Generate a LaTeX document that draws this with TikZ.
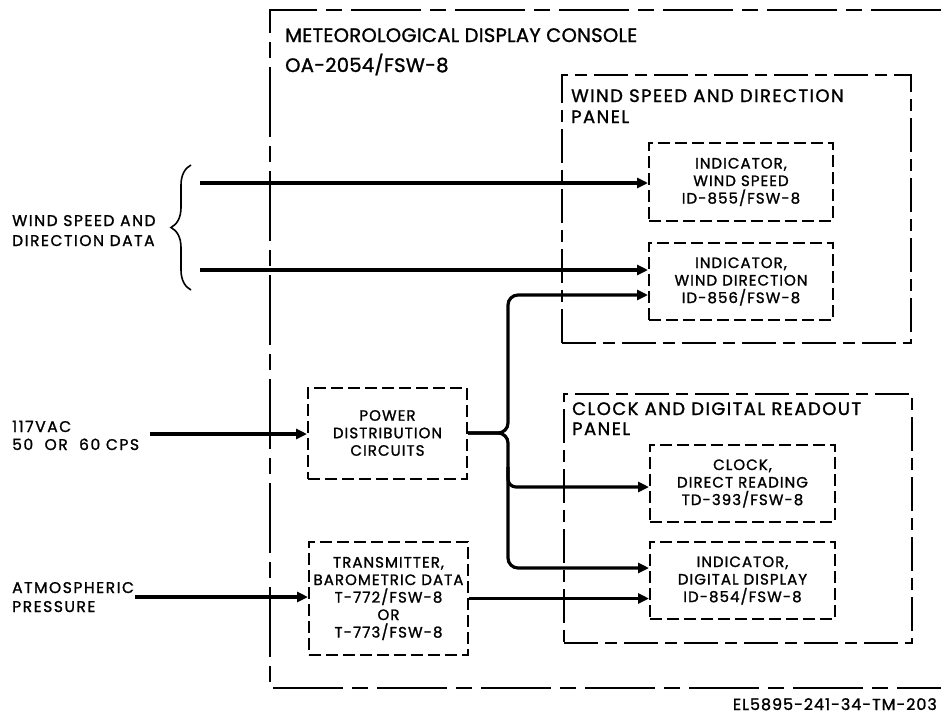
\documentclass[tikz,border=0pt]{standalone}
\usepackage{fontspec}
\setmainfont{Poppins}
\newfontfamily\lett{Poppins}[FakeBold=1.3]
\usetikzlibrary{arrows.meta,calc,decorations.pathreplacing}
\begin{document}
\begin{tikzpicture}[x=1pt,y=-1pt,
  txt/.style={inner sep=0pt, font=\lett\fontsize{15.5}{18}\selectfont\addfontfeature{LetterSpace=10}},
  ttl/.style={inner sep=0pt, font=\lett\fontsize{18}{21}\selectfont\addfontfeature{LetterSpace=8}},
  big/.style={inner sep=0pt, font=\lett\fontsize{19.5}{21}\selectfont\addfontfeature{LetterSpace=1.5}},
  unit/.style={draw, line width=2pt, dash pattern=on 12pt off 5pt, align=center, inner sep=0pt, font=\lett\fontsize{15}{17.5}\selectfont\addfontfeature{LetterSpace=7}},
  panel/.style={draw, line width=1.7pt, dash pattern=on 34pt off 7pt on 12pt off 7pt, inner sep=0pt},
  flow/.style={line width=3.2pt, -{Triangle[length=11pt,width=10pt]}},
]
\useasboundingbox (0,0) rectangle (941,717);
\fill[white] (0,0) rectangle (941,717);

% console outline
\coordinate (ctr) at (941,10);
\coordinate (ctl) at (270,10);
\coordinate (cbl) at (270,688);
\coordinate (cbr) at (941,688);
\draw[line width=1.8pt, dash pattern=on 70pt off 9pt on 16pt off 9pt] (ctr) -- (ctl) -- (cbl) -- (cbr);
\node[big, anchor=base west] (t1) at (285,42) {METEOROLOGICAL DISPLAY CONSOLE};
\node[big, anchor=base west] (t2) at (285,72) {OA-2054/FSW-8};

% panels
\node[panel, minimum width=349pt, minimum height=268pt] (wpanel) at (736.5,209) {};
\node[panel, minimum width=348pt, minimum height=249pt] (cpanel) at (738,518.5) {};
\node[ttl, anchor=base west] (wp1) at (571,102) {WIND SPEED AND DIRECTION};
\node[ttl, anchor=base west] (wp2) at (571,123) {PANEL};
\node[ttl, anchor=base west] (cp1) at (572,415) {CLOCK AND DIGITAL READOUT};
\node[ttl, anchor=base west] (cp2) at (572,435) {PANEL};

% units
\node[unit, minimum width=184pt, minimum height=78pt] (ws) at (741,182) {INDICATOR,\\WIND SPEED\\ID-855/FSW-8};
\node[unit, minimum width=184pt, minimum height=77pt] (wd) at (741,281.5) {INDICATOR,\\WIND DIRECTION\\ID-856/FSW-8};
\node[unit, minimum width=185pt, minimum height=77pt] (clk) at (742.5,483.5) {CLOCK,\\DIRECT READING\\TD-393/FSW-8};
\node[unit, minimum width=185pt, minimum height=77pt] (dd) at (742.5,580.5) {INDICATOR,\\DIGITAL DISPLAY\\ID-854/FSW-8};
\node[unit, minimum width=159pt, minimum height=91pt] (pwr) at (387.5,433) {POWER\\DISTRIBUTION\\CIRCUITS};
\node[unit, minimum width=159pt, minimum height=113pt] (tx) at (388.5,598.5) {TRANSMITTER,\\BAROMETRIC DATA\\T-772/FSW-8\\OR\\T-773/FSW-8};

% outside labels
\node[txt, anchor=base west] (lw1) at (12,226) {WIND SPEED AND};
\node[txt, anchor=base west] (lw2) at (12,246) {DIRECTION DATA};
\node[txt, anchor=base west] (la1) at (12,432) {117VAC};
\node[txt, anchor=base west] (la2) at (12,450) {50\ \ OR\ \ 60 CPS};
\node[txt, anchor=base west] (lp1) at (12,593) {ATMOSPHERIC};
\node[txt, anchor=base west] (lp2) at (12,612) {PRESSURE};
\node[txt, anchor=base east, font=\lett\fontsize{16}{18}\selectfont\addfontfeature{LetterSpace=6}] (cap) at (937,710) {EL5895-241-34-TM-203};

% brace
\draw[line width=1.6pt, decorate, decoration={brace, amplitude=20pt}] (191,290) -- (191,165);

% free ends
\coordinate (wsin) at (200,183);
\coordinate (wdin) at (200,270);
\coordinate (acin) at (150,434);
\coordinate (atin) at (135,597);
\coordinate (trunk) at (508,433);
\coordinate (wdp) at ($(wd.west)+(0,13.5)$);
\coordinate (clkp) at ($(clk.west)+(0,3.5)$);
\coordinate (ddp) at ($(dd.west)+(0,-12.5)$);

% connectors
\draw[flow] (wsin) -- (wsin -| ws.west);
\draw[flow] (wdin) -- (wdin -| wd.west);
\draw[flow] (acin) -- (acin -| pwr.west);
\draw[flow] (atin) -- (atin -| tx.west);
\draw[flow] (tx.east) -- (tx.east -| dd.west);
\draw[flow, rounded corners=10pt] (pwr.east) -- (trunk) -- (trunk |- wdp) -- (wdp);
\draw[flow, rounded corners=10pt] (pwr.east) -- (trunk) -- (trunk |- ddp) -- (ddp);
\draw[flow, rounded corners=8pt] ($(trunk |- clkp)+(0,-20)$) -- (trunk |- clkp) -- (clkp);
\end{tikzpicture}
\end{document}
